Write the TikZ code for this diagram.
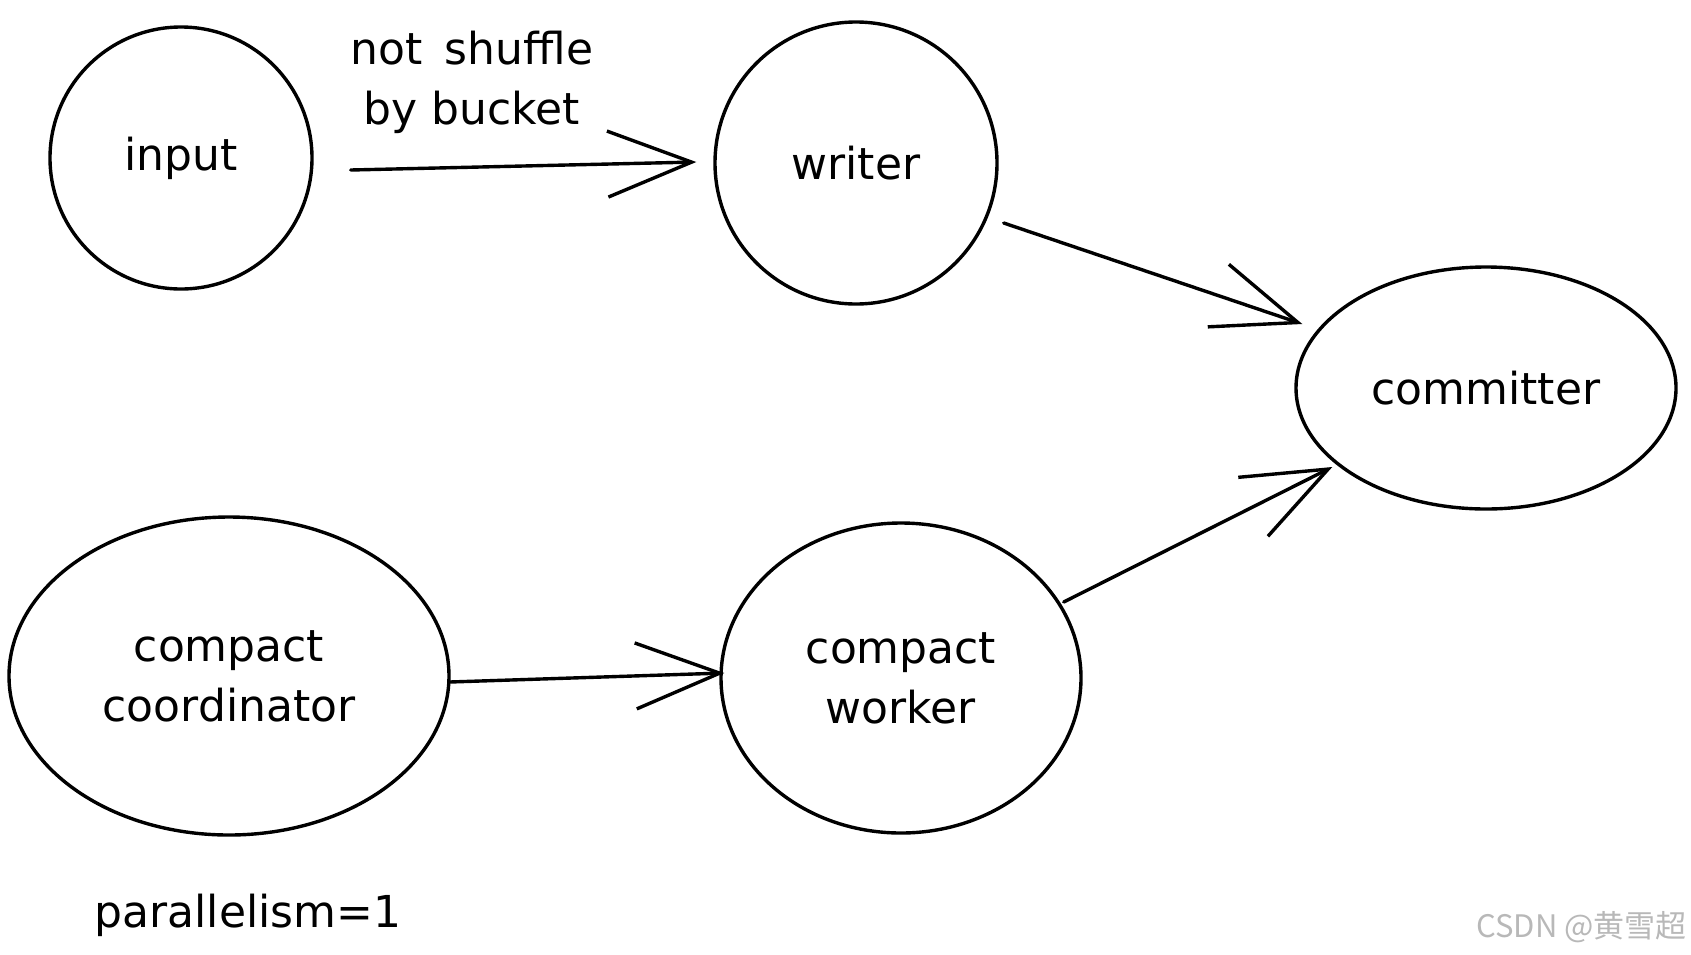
\documentclass[tikz,border=0pt]{standalone}
\usepackage{fontspec}
\setmainfont{DejaVu Sans}
\newfontfamily\cjkfont{Noto Sans CJK SC}
\usetikzlibrary{shapes.geometric,arrows.meta,calc}
\begin{document}
\begin{tikzpicture}[x=1pt,y=-1pt,
  bub/.style={ellipse,draw,line width=3.4pt,inner sep=0pt,align=center,font=\fontsize{44}{60}\selectfont},
  conn/.style={line width=3.4pt,-{Straight Barb[length=84pt,width=66pt]},line cap=round,line join=round},
  lbl/.style={font=\fontsize{44}{60}\selectfont,align=center,inner sep=0pt}]
\useasboundingbox (0,0) rectangle (1691,954);
\node[bub,minimum width=262pt,minimum height=262pt] (input) at (181,158) {input};
\node[bub,minimum width=282pt,minimum height=282pt] (writer) at (856,163) {writer};
\node[bub,minimum width=380pt,minimum height=242pt] (committer) at (1486,388) {committer};
\node[bub,minimum width=440pt,minimum height=318pt] (coord) at (229,676) {compact\\coordinator};
\node[bub,minimum width=360pt,minimum height=310pt] (worker) at (901,678) {compact\\worker};
\draw[conn] ($(input.east)+(37,12)$) -- ($(writer.west)+(-17,-1)$);
\draw[conn] ($(writer.east)+(5,60)$) -- ($(committer.west)+(8,-64)$);
\draw[conn] ($(coord.east)+(-1,6)$) -- ($(worker.west)+(5,-5)$);
\draw[conn] ($(worker.east)+(-19,-76)$) -- ($(committer.west)+(38,79)$);
\node[lbl] (shuf) at (472,82) {not\hspace{0.5em}shuffle\\by bucket};
\node[lbl,anchor=base] (par) at (248,927) {parallelism=1};
\node[anchor=base east,inner sep=0pt,text=black!28,font=\cjkfont\fontsize{31}{31}\selectfont] (wm) at (1687,937) {CSDN @黄雪超};
\end{tikzpicture}
\end{document}
